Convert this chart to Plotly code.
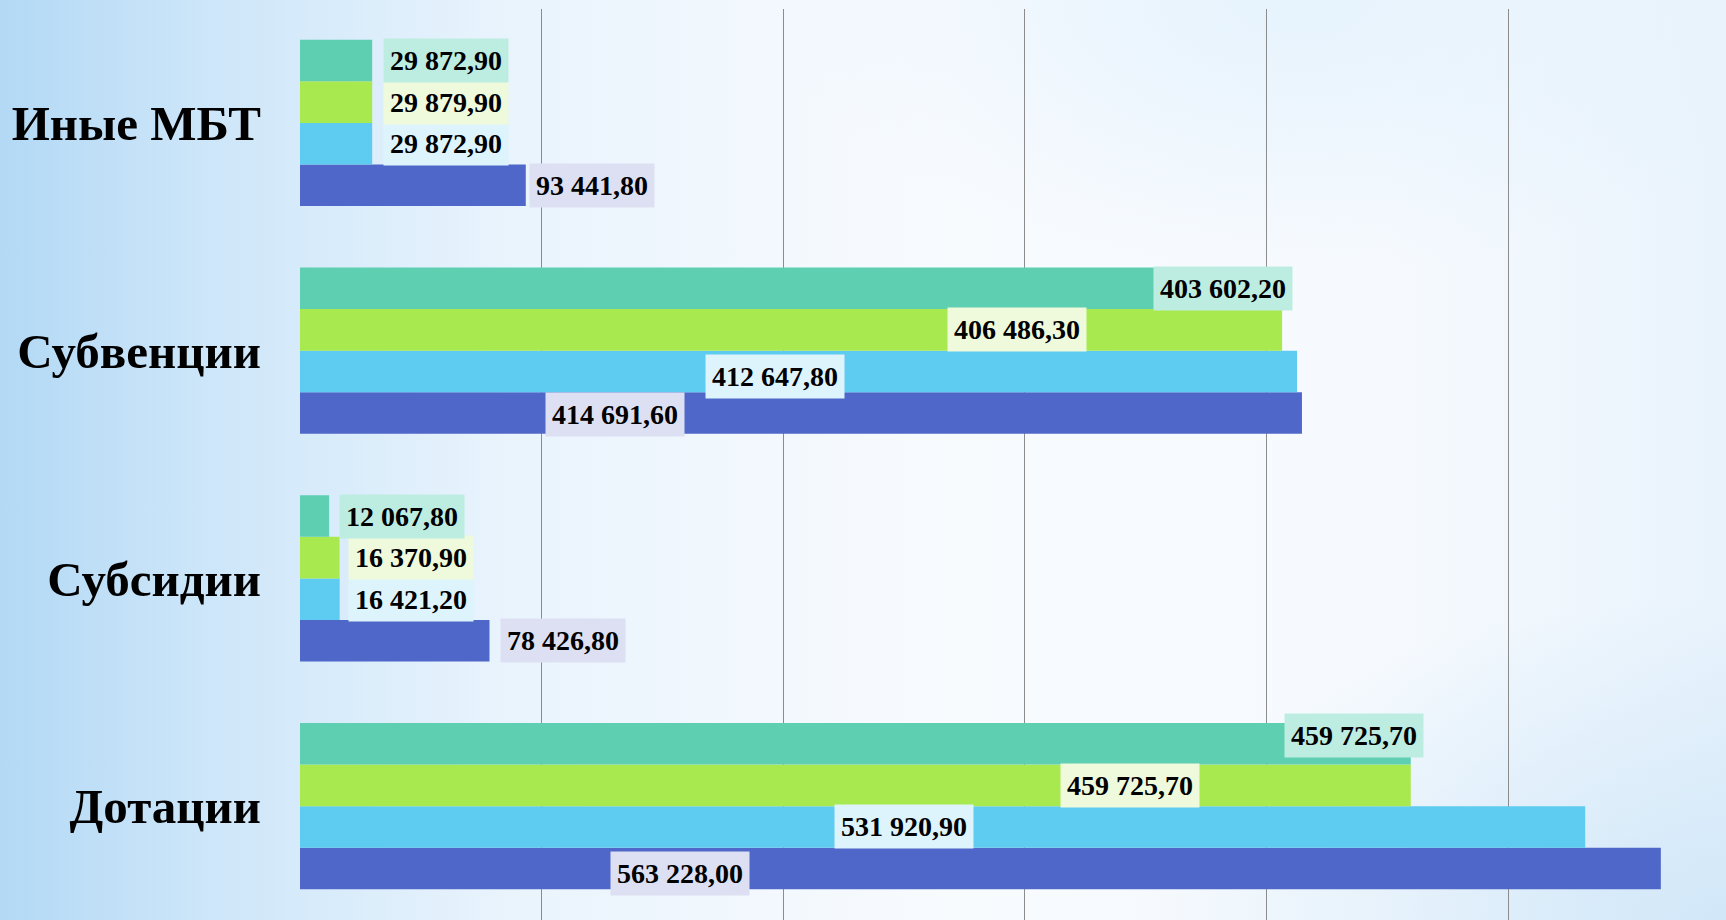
import base64
import plotly.graph_objects as go

# ---------------- data ----------------
categories = ["Дотации", "Субсидии", "Субвенции", "Иные МБТ"]
series_names = ["Ряд 1", "Ряд 2", "Ряд 3", "Ряд 4"]   # bottom-to-top within each group
values_s1 = [563228.00, 78426.80, 414691.60, 93441.80]    # dark blue
values_s2 = [531920.90, 16421.20, 412647.80, 29872.90]    # light blue
values_s3 = [459725.70, 16370.90, 406486.30, 29879.90]    # green
values_s4 = [459725.70, 12067.80, 403602.20, 29872.90]    # teal
all_values = [values_s1, values_s2, values_s3, values_s4]

# label centres (data units) and small vertical nudges (px) as placed in the original
label_x_s1 = [157100, 108800, 130200, 120700]
label_x_s2 = [250000, 46000, 196700, 60600]
label_x_s3 = [343400, 46000, 296900, 60600]
label_x_s4 = [436200, 42300, 382100, 60600]
label_x = [label_x_s1, label_x_s2, label_x_s3, label_x_s4]
label_dy_s1 = [-5, 0, -2, 0]
label_dy_s2 = [0, 0, -5, 0]
label_dy_s3 = [0, 0, 0, 0]
label_dy_s4 = [8, 0, 0, 0]
label_dy = [label_dy_s1, label_dy_s2, label_dy_s3, label_dy_s4]

bar_colors = ["#4f67c8", "#5ecbf1", "#a8e94f", "#5ecfb1"]
label_bg = ["#dde0f3", "#def4fd", "#eefadb", "#bdede0"]

W, H = 1726, 920
ML, MR, MT, MB = 300, 0, 9, 0
BARGAP = 0.27
FONT = "Liberation Serif"


def fmt(v):
    return f"{v:,.2f}".replace(",", " ").replace(".", ",")


fig = go.Figure()
for i, name in enumerate(series_names):
    fig.add_trace(go.Bar(
        y=categories, x=all_values[i], name=name, orientation="h",
        marker=dict(color=bar_colors[i], line=dict(width=0)),
        hoverinfo="x+y",
    ))

# value labels
n = len(series_names)
bw = (1 - BARGAP) / n
annotations = []
for i in range(n):
    for c in range(len(categories)):
        yc = c - (1 - BARGAP) / 2 + bw * (i + 0.5)
        annotations.append(dict(
            x=label_x[i][c], y=yc, xref="x", yref="y",
            text="<b>" + fmt(all_values[i][c]) + "</b>",
            showarrow=False, xanchor="center", yanchor="middle",
            yshift=label_dy[i][c],
            font=dict(family=FONT, size=28, color="#000000"),
            bgcolor=label_bg[i], borderpad=6,
        ))

# soft background gradient as an inline SVG
svg = f'''<svg xmlns="http://www.w3.org/2000/svg" width="{W}" height="{H}" viewBox="0 0 {W} {H}">
<defs>
<linearGradient id="g1" x1="0" y1="0" x2="1" y2="0">
<stop offset="0" stop-color="#b3d9f5"/>
<stop offset="0.12" stop-color="#cde6f9"/>
<stop offset="0.3" stop-color="#eaf4fd"/>
<stop offset="0.55" stop-color="#f8fbfe"/>
<stop offset="0.8" stop-color="#f6fafe"/>
<stop offset="1" stop-color="#e9f3fc"/>
</linearGradient>
<radialGradient id="g2" cx="1" cy="1" r="0.35">
<stop offset="0" stop-color="#cfe6f8" stop-opacity="0.9"/>
<stop offset="1" stop-color="#cfe6f8" stop-opacity="0"/>
</radialGradient>
<radialGradient id="g3" cx="0.75" cy="0" r="0.3">
<stop offset="0" stop-color="#e2f1fd" stop-opacity="0.8"/>
<stop offset="1" stop-color="#e2f1fd" stop-opacity="0"/>
</radialGradient>
</defs>
<rect width="{W}" height="{H}" fill="url(#g1)"/>
<rect width="{W}" height="{H}" fill="url(#g2)"/>
<rect width="{W}" height="{H}" fill="url(#g3)"/>
</svg>'''
src = "data:image/svg+xml;base64," + base64.b64encode(svg.encode("utf-8")).decode("ascii")

pw = W - ML - MR
ph = H - MT - MB
fig.update_layout(
    width=W, height=H,
    margin=dict(l=ML, r=MR, t=MT, b=MB, pad=0),
    barmode="group", bargap=BARGAP, bargroupgap=0,
    showlegend=False,
    paper_bgcolor="#f4f9fe", plot_bgcolor="rgba(0,0,0,0)",
    annotations=annotations,
    images=[dict(source=src, xref="paper", yref="paper",
                 x=-ML / pw, y=1 + MT / ph, sizex=W / pw, sizey=H / ph,
                 xanchor="left", yanchor="top", sizing="stretch", layer="below")],
    xaxis=dict(range=[0, 590200], dtick=100000, tick0=0, showticklabels=False,
               showgrid=True, gridcolor="#8c8c8c", gridwidth=1,
               zeroline=False, showline=False, fixedrange=True),
    yaxis=dict(range=[-0.5, 3.5], type="category", showgrid=False, zeroline=False,
               showline=False, ticks="", ticklabelstandoff=38,
               tickfont=dict(family=FONT, size=49, color="#000000"),
               tickvals=categories, ticktext=["<b>" + c + "</b>" for c in categories],
               fixedrange=True),
)

fig.write_html(
    "out.html",
    config={"displayModeBar": False},
    post_script="document.body.style.margin='0';document.body.style.overflow='hidden';",
)
